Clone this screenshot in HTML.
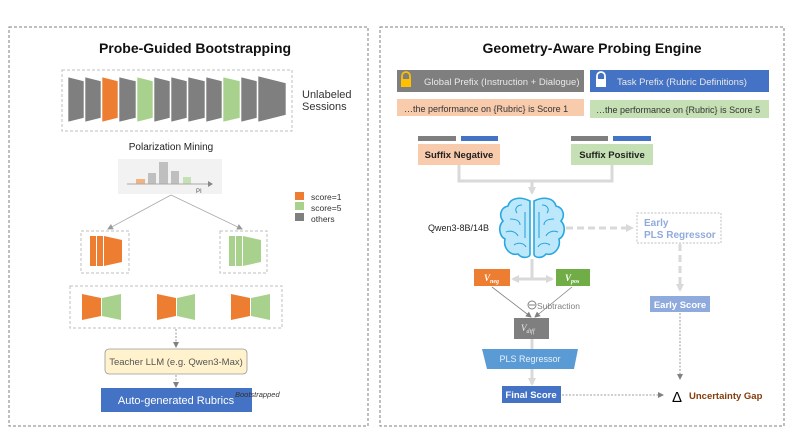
<!DOCTYPE html>
<html><head><meta charset="utf-8"><style>
html,body{margin:0;padding:0;background:#fff;width:793px;height:446px;overflow:hidden}
svg{display:block;font-family:"Liberation Sans",sans-serif}
</style></head><body>
<svg width="793" height="446" viewBox="0 0 793 446" xmlns="http://www.w3.org/2000/svg">
<defs>
<marker id="ag" markerWidth="6" markerHeight="6" refX="5" refY="3" orient="auto" markerUnits="userSpaceOnUse"><path d="M0,0 L6,3 L0,6 z" fill="#999"/></marker>
<marker id="al" markerWidth="8" markerHeight="8" refX="6" refY="4" orient="auto" markerUnits="userSpaceOnUse"><path d="M0,0 L8,4 L0,8 z" fill="#d9d9d9"/></marker>
<marker id="ad" markerWidth="6" markerHeight="6" refX="5" refY="3" orient="auto" markerUnits="userSpaceOnUse"><path d="M0,0 L6,3 L0,6 z" fill="#808080"/></marker>
</defs>
<!-- Left panel -->
<rect x="9" y="27" width="359" height="399" fill="none" stroke="#7f7f7f" stroke-width="1" stroke-dasharray="3,2"/>
<text x="195" y="53" font-size="14" font-weight="bold" text-anchor="middle" fill="#111">Probe-Guided Bootstrapping</text>
<rect x="62" y="70" width="230" height="61" fill="none" stroke="#bfbfbf" stroke-dasharray="3,2"/>
<g stroke="#fff" stroke-width="0.6">
<polygon points="68,77 84,81 84,118 68,122" fill="#7f7f7f"/>
<polygon points="85,77 101,81 101,118 85,122" fill="#7f7f7f"/>
<polygon points="102,77 118,81 118,118 102,122" fill="#ed7d31"/>
<polygon points="119,77 136,81 136,118 119,122" fill="#7f7f7f"/>
<polygon points="137,77 153,81 153,118 137,122" fill="#a9d18e"/>
<polygon points="154,77 170,81 170,118 154,122" fill="#7f7f7f"/>
<polygon points="171,77 187,81 187,118 171,122" fill="#7f7f7f"/>
<polygon points="188,77 205,81 205,118 188,122" fill="#7f7f7f"/>
<polygon points="206,77 222,81 222,118 206,122" fill="#7f7f7f"/>
<polygon points="223,77 240,81 240,118 223,122" fill="#a9d18e"/>
<polygon points="241,77 257,81 257,118 241,122" fill="#7f7f7f"/>
<polygon points="258,76 286,83 286,115 258,122" fill="#7f7f7f"/>
</g>
<text x="302" y="98" font-size="11" fill="#333">Unlabeled</text>
<text x="302" y="110" font-size="11" fill="#333">Sessions</text>
<text x="171" y="150" font-size="10" text-anchor="middle" fill="#222">Polarization Mining</text>
<rect x="118" y="159" width="104" height="35" fill="#f2f2f2"/>
<rect x="136" y="179" width="9" height="5" fill="#f4b183"/>
<rect x="148" y="173" width="8" height="11" fill="#bfbfbf"/>
<rect x="159" y="162" width="9" height="22" fill="#bfbfbf"/>
<rect x="171" y="171" width="8" height="13" fill="#bfbfbf"/>
<rect x="183" y="177" width="8" height="7" fill="#c5e0b4"/>
<line x1="127" y1="184" x2="210" y2="184" stroke="#aaa" stroke-width="1"/>
<path d="M208,181 L213,184 L208,187z" fill="#888"/>
<text x="196" y="193" font-size="6" fill="#555">PI</text>
<rect x="295" y="192" width="9" height="8" fill="#ed7d31"/>
<rect x="295" y="202" width="9" height="8" fill="#a9d18e"/>
<rect x="295" y="213" width="9" height="8" fill="#7f7f7f"/>
<text x="311" y="200" font-size="8.5" fill="#333">score=1</text>
<text x="311" y="211" font-size="8.5" fill="#333">score=5</text>
<text x="311" y="222" font-size="8.5" fill="#333">others</text>
<line x1="171" y1="195" x2="108" y2="229" stroke="#aaa" stroke-width="0.8" marker-end="url(#ag)"/>
<line x1="171" y1="195" x2="242" y2="229" stroke="#aaa" stroke-width="0.8" marker-end="url(#ag)"/>
<rect x="81" y="231" width="48" height="42" fill="none" stroke="#bfbfbf" stroke-dasharray="3,2"/>
<rect x="220" y="231" width="47" height="42" fill="none" stroke="#bfbfbf" stroke-dasharray="3,2"/>
<rect x="90" y="236" width="6" height="30" fill="#ed7d31"/>
<rect x="97" y="236" width="6" height="30" fill="#ed7d31"/>
<polygon points="104,236 122,240 122,262 104,266" fill="#ed7d31"/>
<rect x="229" y="236" width="6" height="30" fill="#a9d18e"/>
<rect x="236" y="236" width="6" height="30" fill="#a9d18e"/>
<polygon points="243,236 261,240 261,262 243,266" fill="#a9d18e"/>
<rect x="70" y="286" width="212" height="42" fill="none" stroke="#bfbfbf" stroke-dasharray="3,2"/>
<g>
<polygon points="82,294 101,298 101,316 82,320" fill="#ed7d31"/><polygon points="102,298 121,294 121,320 102,316" fill="#a9d18e"/>
<polygon points="157,294 176,298 176,316 157,320" fill="#ed7d31"/><polygon points="177,298 195,294 195,320 177,316" fill="#a9d18e"/>
<polygon points="231,294 250,298 250,316 231,320" fill="#ed7d31"/><polygon points="251,298 270,294 270,320 251,316" fill="#a9d18e"/>
</g>
<line x1="176" y1="329" x2="176" y2="347" stroke="#808080" stroke-width="0.8" stroke-dasharray="2,1.5" marker-end="url(#ad)"/>
<rect x="105" y="349" width="142" height="25" rx="4" fill="#fff2cc" stroke="#999" stroke-width="0.8"/>
<text x="176" y="365" font-size="9.5" text-anchor="middle" fill="#555">Teacher LLM (e.g. Qwen3-Max)</text>
<line x1="176" y1="375" x2="176" y2="387" stroke="#808080" stroke-width="0.8" stroke-dasharray="2,1.5" marker-end="url(#ad)"/>
<rect x="101" y="388" width="151" height="24" fill="#4472c4"/>
<text x="176" y="404" font-size="11" text-anchor="middle" fill="#fff">Auto-generated Rubrics</text>
<text x="235" y="397" font-size="7.5" font-style="italic" fill="#333">Bootstrapped</text>

<!-- Right panel -->
<rect x="380" y="27" width="404" height="399" fill="none" stroke="#7f7f7f" stroke-width="1" stroke-dasharray="3,2"/>
<text x="592" y="53" font-size="14" font-weight="bold" text-anchor="middle" fill="#111">Geometry-Aware Probing Engine</text>
<rect x="397" y="70" width="187" height="22" fill="#7f7f7f"/>
<rect x="590" y="70" width="179" height="22" fill="#4472c4"/>
<path d="M402,79 v-3 a4,4 0 0 1 8,0 v3" fill="none" stroke="#ffc000" stroke-width="1.8"/>
<rect x="401" y="79" width="10" height="8" fill="#ffc000"/>
<path d="M597,79 v-3 a4,4 0 0 1 8,0 v3" fill="none" stroke="#fff" stroke-width="1.8"/>
<rect x="596" y="79" width="10" height="8" fill="#fff"/>
<text x="424" y="85" font-size="9.5" fill="#e8e8e8">Global Prefix (Instruction + Dialogue)</text>
<text x="617" y="85" font-size="9.5" fill="#e8e8e8">Task Prefix (Rubric Definitions)</text>
<rect x="397" y="99" width="187" height="17" fill="#f8cbad"/>
<rect x="590" y="100" width="179" height="18" fill="#c5e0b4"/>
<text x="404" y="112" font-size="9" fill="#333">…the performance on {Rubric} is Score 1</text>
<text x="596" y="113" font-size="9" fill="#333">…the performance on {Rubric} is Score 5</text>
<rect x="418" y="136" width="38" height="5" fill="#7f7f7f"/><rect x="461" y="136" width="37" height="5" fill="#4472c4"/>
<rect x="571" y="136" width="37" height="5" fill="#7f7f7f"/><rect x="613" y="136" width="38" height="5" fill="#4472c4"/>
<rect x="418" y="144" width="82" height="21" fill="#f8cbad"/>
<rect x="571" y="144" width="82" height="21" fill="#c5e0b4"/>
<text x="459" y="158" font-size="9.5" font-weight="bold" text-anchor="middle" fill="#222">Suffix Negative</text>
<text x="612" y="158" font-size="9.5" font-weight="bold" text-anchor="middle" fill="#222">Suffix Positive</text>
<path d="M459,165 V181 H612 V165" fill="none" stroke="#d9d9d9" stroke-width="3"/>
<line x1="532" y1="181" x2="532" y2="193" stroke="#d9d9d9" stroke-width="3" marker-end="url(#al)"/>
<!-- brain -->
<g fill="#bde7fb" stroke="#29a8e0" stroke-width="1.6">
<path d="M530,201 C520,196 510,198 508,206 C500,208 499,216 503,221 C498,226 499,236 505,239 C503,248 510,256 518,254 C522,259 530,258 530,254 Z"/>
<path d="M534,201 C544,196 554,198 556,206 C564,208 565,216 561,221 C566,226 565,236 559,239 C561,248 554,256 546,254 C542,259 534,258 534,254 Z"/>
</g>
<g fill="none" stroke="#29a8e0" stroke-width="1.1">
<path d="M522,205 c-5,0 -8,4 -5,8 M510,219 c6,0 10,2 10,6 M506,232 c5,-2 10,0 12,4 M514,245 c4,-3 10,-2 12,2 M525,212 v26"/>
<path d="M542,205 c5,0 8,4 5,8 M554,219 c-6,0 -10,2 -10,6 M558,232 c-5,-2 -10,0 -12,4 M550,245 c-4,-3 -10,-2 -12,2 M539,212 v26"/>
</g>
<text x="428" y="231" font-size="9" fill="#222">Qwen3-8B/14B</text>
<line x1="566" y1="228" x2="632" y2="228" stroke="#d9d9d9" stroke-width="3" stroke-dasharray="7,4" marker-end="url(#al)"/>
<rect x="637" y="213" width="84" height="30" fill="#fff" stroke="#bfbfbf" stroke-dasharray="2,1.5"/>
<text x="644" y="226" font-size="10" font-weight="bold" fill="#8faadc">Early</text>
<text x="644" y="238" font-size="10" font-weight="bold" fill="#8faadc">PLS Regressor</text>
<line x1="680" y1="244" x2="680" y2="290" stroke="#d9d9d9" stroke-width="3" stroke-dasharray="7,4" marker-end="url(#al)"/>
<rect x="650" y="296" width="60" height="16" fill="#8faadc"/>
<text x="680" y="308" font-size="9.5" font-weight="bold" text-anchor="middle" fill="#fff">Early Score</text>
<line x1="680" y1="313" x2="680" y2="379" stroke="#808080" stroke-width="0.8" stroke-dasharray="2,1.5" marker-end="url(#ad)"/>
<line x1="532" y1="259" x2="532" y2="279" stroke="#d9d9d9" stroke-width="3"/>
<line x1="532" y1="279" x2="513" y2="279" stroke="#d9d9d9" stroke-width="3" marker-end="url(#al)"/>
<line x1="532" y1="279" x2="552" y2="279" stroke="#d9d9d9" stroke-width="3" marker-end="url(#al)"/>
<rect x="474" y="269" width="36" height="17" fill="#ed7d31"/>
<rect x="556" y="269" width="34" height="17" fill="#70ad47"/>
<text x="484" y="281" font-size="9" font-style="italic" font-weight="bold" fill="#fff" font-family="Liberation Serif,serif">V<tspan font-size="6" dy="2">neg</tspan></text>
<text x="565" y="281" font-size="9" font-style="italic" font-weight="bold" fill="#fff" font-family="Liberation Serif,serif">V<tspan font-size="6" dy="2">pos</tspan></text>
<line x1="492" y1="287" x2="531" y2="317" stroke="#808080" stroke-width="0.8" marker-end="url(#ad)"/>
<line x1="572" y1="287" x2="535" y2="317" stroke="#808080" stroke-width="0.8" marker-end="url(#ad)"/>
<circle cx="532" cy="305" r="4" fill="none" stroke="#7f7f7f" stroke-width="1"/><line x1="529" y1="305" x2="535" y2="305" stroke="#7f7f7f"/>
<text x="537" y="309" font-size="8.5" fill="#7f7f7f">Subtraction</text>
<rect x="514" y="318" width="35" height="21" fill="#7f7f7f"/>
<text x="521" y="331" font-size="9" font-style="italic" fill="#eee" font-family="Liberation Serif,serif">V<tspan font-size="6" dy="2">diff</tspan></text>
<line x1="532" y1="339" x2="532" y2="349" stroke="#d9d9d9" stroke-width="3"/>
<polygon points="482,349 578,349 574,369 487,369" fill="#5b9bd5"/>
<text x="530" y="362" font-size="9" text-anchor="middle" fill="#e8f0fa">PLS Regressor</text>
<line x1="532" y1="369" x2="532" y2="384" stroke="#d9d9d9" stroke-width="3" marker-end="url(#al)"/>
<rect x="502" y="386" width="59" height="17" fill="#4472c4"/>
<text x="531" y="398" font-size="9.5" font-weight="bold" text-anchor="middle" fill="#fff">Final Score</text>
<line x1="562" y1="395" x2="663" y2="395" stroke="#808080" stroke-width="0.8" stroke-dasharray="2,1.5" marker-end="url(#ad)"/>
<text x="672" y="402" font-size="15" fill="#000">Δ</text>
<text x="689" y="399" font-size="9.5" font-weight="bold" fill="#843c0c">Uncertainty Gap</text>
</svg>
</body></html>
